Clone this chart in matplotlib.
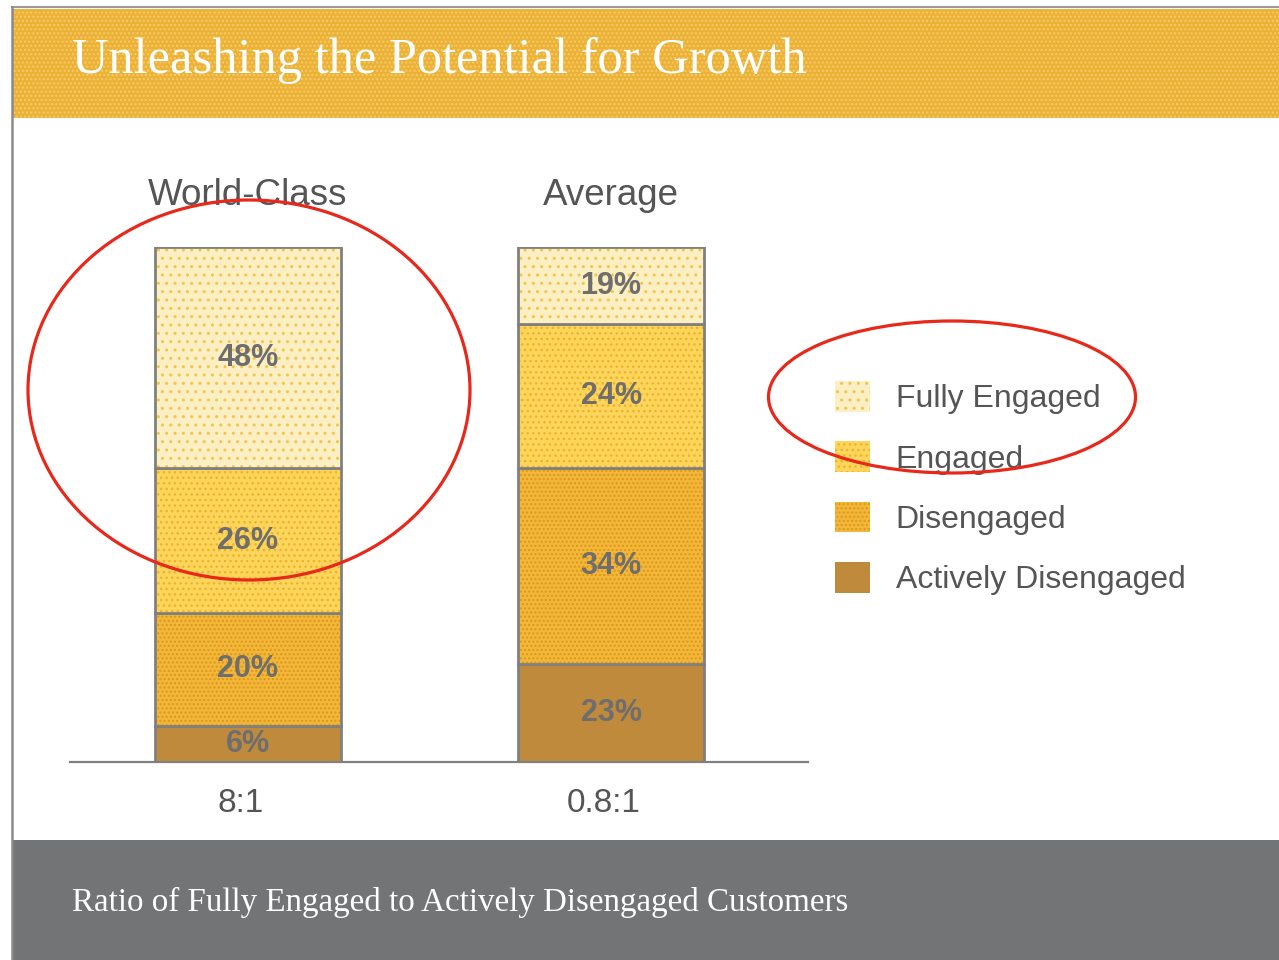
import matplotlib
matplotlib.use("Agg")
import numpy as np
import matplotlib.pyplot as plt
from matplotlib.patches import Ellipse, Patch, Rectangle

# data (bottom segment first)
groups = ["World-Class", "Average"]
ratios = ["8:1", "0.8:1"]
segments = ["Actively Disengaged", "Disengaged", "Engaged", "Fully Engaged"]
# segment heights as they are drawn (share of each bar)
world_drawn = [7, 22, 28, 43]
average_drawn = [19, 38, 28, 15]
# the printed labels
world_labels = ["6%", "20%", "26%", "48%"]
average_labels = ["23%", "34%", "24%", "19%"]

faces = ["#C08A3C", "#F3B63A", "#FCD55A", "#FCEFC4"]
dots = [None, "#D99A14", "#EFB22E", "#F4C54A"]
hatches = [None, "....", "...", ".."]

W, H = 1279, 960
fig = plt.figure(figsize=(W / 100, H / 100), dpi=100)
fig.patch.set_facecolor("white")

# background: bands, borders, title, footer
bg = fig.add_axes([0, 0, 1, 1], zorder=0)
bg.set_xlim(0, W)
bg.set_ylim(H, 0)
bg.axis("off")
bg.add_patch(Rectangle((12, 9), W, 109, facecolor="#ECB236", edgecolor="none"))
bg.add_patch(Rectangle((12, 9), W, 109, facecolor="none", edgecolor="#F5CB6A",
                       lw=0, hatch="...."))
bg.add_patch(Rectangle((12, 840), W, 130, facecolor="#737476", edgecolor="none"))
bg.plot([12, W], [7, 7], color="#9a9a9a", lw=1.5)
bg.plot([12, 12], [7, H], color="#8a8a8a", lw=1.8)
bg.text(72, 73, "Unleashing the Potential for Growth", color="white",
        fontsize=36.4, family="Liberation Serif", va="baseline", ha="left")
bg.text(72, 911, "Ratio of Fully Engaged to Actively Disengaged Customers",
        color="white", fontsize=23.8, family="Liberation Serif", va="baseline",
        ha="left")

# bars
ax = fig.add_axes([70 / W, (H - 762) / H, 738 / W, 515 / H], zorder=1)
ax.patch.set_alpha(0)
x = np.arange(len(groups))
width = 0.51
data = np.array([world_drawn, average_drawn], dtype=float)
labels = [world_labels, average_labels]
bottoms = np.zeros(len(groups))
for i, seg in enumerate(segments):
    vals = data[:, i]
    ax.bar(x, vals, width, bottom=bottoms, color=faces[i], linewidth=0)
    if hatches[i]:
        ax.bar(x, vals, width, bottom=bottoms, facecolor="none",
               edgecolor=dots[i], linewidth=0, hatch=hatches[i])
    ax.bar(x, vals, width, bottom=bottoms, fill=False, edgecolor="#808080",
           linewidth=2)
    for j in range(len(groups)):
        ax.text(x[j], bottoms[j] + vals[j] / 2, labels[j][i], ha="center",
                va="center", fontsize=22, fontweight="bold", color="#6e6e6e",
                family="Liberation Sans")
    bottoms += vals

ax.set_xlim((70 - 248) / 363, (808 - 248) / 363)
ax.set_ylim(0, 100)
for s in ["top", "right", "left"]:
    ax.spines[s].set_visible(False)
ax.spines["bottom"].set_color("#808080")
ax.spines["bottom"].set_linewidth(1.6)
ax.set_yticks([])
ax.set_xticks(x - 0.02, ratios)
ax.tick_params(axis="x", length=0, pad=19, labelsize=24, labelcolor="#555555")
for t in ax.get_xticklabels():
    t.set_family("Liberation Sans")
for j, g in enumerate(groups):
    ax.text(x[j], 110, g, ha="center", va="center", fontsize=26.5,
            color="#555555", family="Liberation Sans", clip_on=False)

handles = []
for i in range(len(segments) - 1, -1, -1):
    handles.append(Patch(facecolor=faces[i], edgecolor=dots[i] or faces[i],
                         linewidth=0, hatch=hatches[i], label=segments[i]))
leg = ax.legend(handles=handles, loc="upper left",
                bbox_to_anchor=(835 / W, 1 - 381 / H),
                bbox_transform=fig.transFigure, frameon=False,
                borderpad=0, borderaxespad=0, handlelength=1.1,
                handleheight=1.1, handletextpad=0.8, labelspacing=0.85,
                prop={"family": "Liberation Sans", "size": 23})
for t in leg.get_texts():
    t.set_color("#555555")

# red marker ellipses on top
top = fig.add_axes([0, 0, 1, 1], zorder=2)
top.set_xlim(0, W)
top.set_ylim(H, 0)
top.axis("off")
top.patch.set_alpha(0)
top.add_patch(Ellipse((249, 390), 442, 380, fill=False, edgecolor="#E8281A", lw=2.3))
top.add_patch(Ellipse((952, 397), 367, 152, fill=False, edgecolor="#E8281A", lw=2.3))

fig.savefig("out.png", dpi=100)
